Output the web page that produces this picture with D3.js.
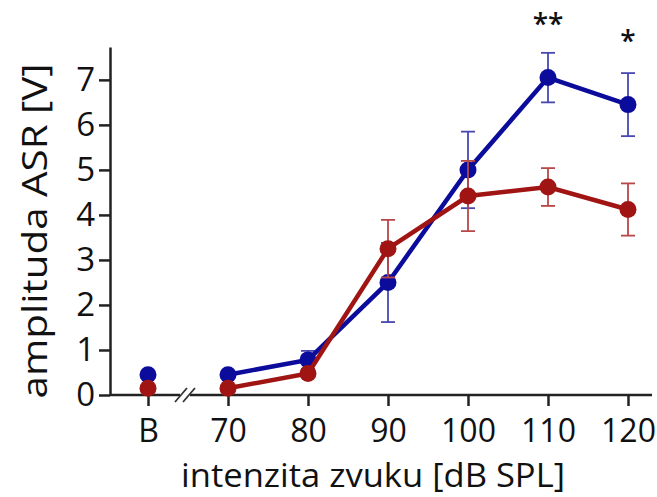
<!DOCTYPE html>
<html><head><meta charset="utf-8">
<script src="https://cdn.jsdelivr.net/npm/d3@7"></script>
<style>body{margin:0;background:#fff}text{font-family:"Open Sans",sans-serif;fill:#111}</style>
</head><body><svg id="c" width="657" height="497"></svg>
<script>
const categories = ["B","70","80","90","100","110","120"];
const blueMean = [0.45,0.45,0.78,2.5,5.0,7.05,6.45];
const blueErr  = [0,0,0.2,0.88,0.85,0.55,0.7];
const redMean  = [0.15,0.15,0.48,3.25,4.42,4.62,4.12];
const redErr   = [0,0,0.05,0.64,0.78,0.42,0.58];
const yTicks = [0,1,2,3,4,5,6,7];
const sigCats = ["110","120"];
const sigLabels = ["**","*"];
const sigLevels = [8.02,7.64];

const svg = d3.select("#c");
const x = d3.scalePoint().domain(categories).range([148,628]);
const y = d3.scaleLinear().domain([0,7.73]).range([395,47]);

// axes
const yAxis = d3.axisLeft(y).tickValues(yTicks).tickSize(11).tickPadding(4).tickSizeOuter(0);
const gy = svg.append("g").attr("transform","translate(110,0)").call(yAxis);
gy.select(".domain").attr("stroke","#222").attr("stroke-width",2.5);
gy.selectAll(".tick line").attr("stroke","#222").attr("stroke-width",2.5);
gy.selectAll(".tick text").attr("font-size",33).style("font-family","'Open Sans',sans-serif").attr("fill","#111");

const xAxis = d3.axisBottom(x).tickSize(11).tickPadding(13).tickSizeOuter(0);
const gx = svg.append("g").attr("transform","translate(0,395)").call(xAxis);
gx.select(".domain").remove();
gx.append("line").attr("x1",110).attr("x2",652).attr("stroke","#222").attr("stroke-width",2.5);
gx.selectAll(".tick line").attr("stroke","#222").attr("stroke-width",2.5);
gx.selectAll(".tick text").attr("font-size",32).style("font-family","'Open Sans',sans-serif").attr("fill","#111");

// axis break
const bx = (x("B")+x("70"))/2 - 3;
svg.append("rect").attr("x",bx-5).attr("y",392).attr("width",10).attr("height",6).attr("fill","#fff");
[-4,4].forEach(d=>{
  svg.append("line").attr("x1",bx+d-6).attr("y1",402).attr("x2",bx+d+6).attr("y2",388)
    .attr("stroke","#333").attr("stroke-width",1.8);
});

// labels
svg.append("text").attr("transform","translate(47,231) rotate(-90)").attr("text-anchor","middle")
  .attr("font-size",35).attr("textLength",335).attr("lengthAdjust","spacingAndGlyphs").text("amplituda ASR [V]");
svg.append("text").attr("x",373).attr("y",487).attr("text-anchor","middle")
  .attr("font-size",33).attr("textLength",384).attr("lengthAdjust","spacingAndGlyphs").text("intenzita zvuku [dB SPL]");

function drawSeries(mean, err, color, errColor){
  const pts = categories.map((c,i)=>({c,v:mean[i],e:err[i],i}));
  const g = svg.append("g");
  pts.filter(p=>p.e>0).forEach(p=>{
    const cx = x(p.c);
    g.append("line").attr("x1",cx).attr("x2",cx).attr("y1",y(p.v-p.e)).attr("y2",y(p.v+p.e))
      .attr("stroke",errColor).attr("stroke-width",1.8);
    [p.v-p.e,p.v+p.e].forEach(v=>g.append("line").attr("x1",cx-7).attr("x2",cx+7).attr("y1",y(v)).attr("y2",y(v))
      .attr("stroke",errColor).attr("stroke-width",1.8));
  });
  const line = d3.line().x(p=>x(p.c)).y(p=>y(p.v));
  g.append("path").datum(pts.slice(1)).attr("d",line).attr("fill","none").attr("stroke",color).attr("stroke-width",4.5);
  g.selectAll("circle").data(pts).join("circle").attr("cx",p=>x(p.c)).attr("cy",p=>y(p.v)).attr("r",8.5).attr("fill",color);
}
drawSeries(blueMean, blueErr, "#0c0c9c", "#4848b0");
drawSeries(redMean, redErr, "#a01414", "#b84848");

sigCats.forEach((c,i)=>{
  svg.append("text").attr("x",x(c)).attr("y",y(sigLevels[i])).attr("text-anchor","middle")
    .attr("font-size",28).attr("font-weight",600).attr("fill","#222").text(sigLabels[i]);
});
</script></body></html>
